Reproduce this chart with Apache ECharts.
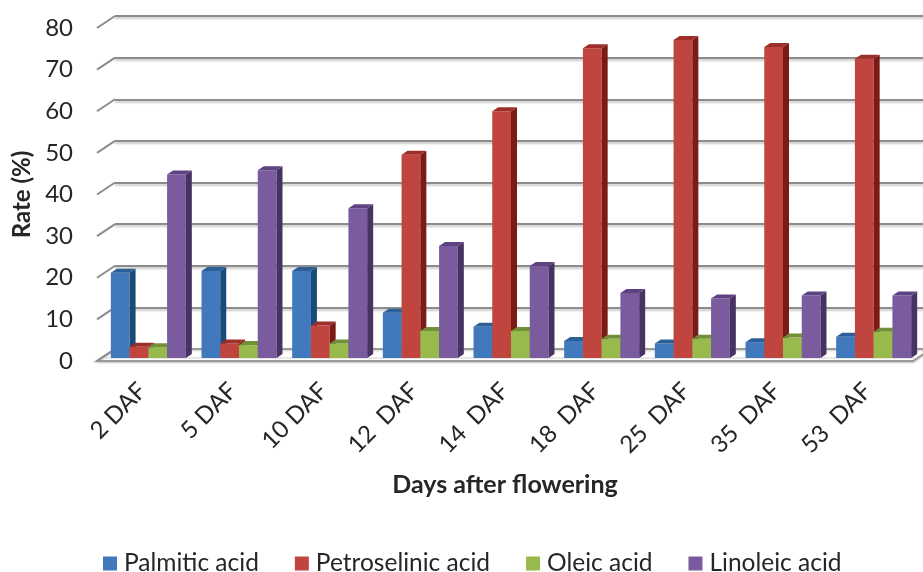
<!DOCTYPE html>
<html>
<head>
<meta charset="utf-8">
<script src="https://cdn.jsdelivr.net/npm/echarts@6/dist/echarts.min.js"></script>
<style>
  html, body { margin: 0; padding: 0; background: #fff; }
  #chart { width: 923px; height: 572px; }
</style>
</head>
<body>
<div id="chart"></div>
<script>
// Fatty acid composition over seed development
const categories = ['2 DAF', '5 DAF', '10 DAF', '12  DAF', '14  DAF', '18  DAF', '25  DAF', '35  DAF', '53  DAF'];
const palmitic     = [20.5, 20.9, 20.9, 10.9, 7.5, 4.1, 3.5, 3.8, 5.1];
const petroselinic = [2.7, 3.5, 7.8, 48.8, 59.3, 74.4, 76.4, 74.7, 71.9];
const oleic        = [2.6, 3.1, 3.5, 6.5, 6.5, 4.6, 4.6, 4.9, 6.3];
const linoleic     = [44.1, 45.1, 36.0, 26.9, 22.1, 15.6, 14.3, 15.0, 15.0];
const yTicks = [0, 10, 20, 30, 40, 50, 60, 70, 80];

// oblique 3D look: the back wall sits up-right of the front edge, bars in between
const WALL_DX = 18, WALL_DY = 12;
const BAR_DX = 6, BAR_DY = 3;
const DEPTH_X = 6, DEPTH_Y = 4;
const BAR_FRAC = 0.2068;

const FONT = 'Lato, "Open Sans", sans-serif';
const TXT = '#262626';

const front = { left: 97, right: 10, top: 28, bottom: 211 };

function barSeries(name, data, idx, cFront, cSide, cTop) {
  return {
    type: 'custom', name: name,
    xAxisIndex: 1, yAxisIndex: 1,
    data: data.map((v, i) => [i, v]),
    encode: { x: 0, y: 1 },
    itemStyle: { color: cFront },
    z: 5,
    renderItem: function (params, api) {
      const i = api.value(0), v = api.value(1);
      const band = api.size([1, 0])[0];
      const w = band * BAR_FRAC;
      const c = api.coord([i, v]);
      const b = api.coord([i, 0]);
      const x0 = c[0] - 2 * w + idx * w;
      const yT = c[1], yB = b[1];
      return {
        type: 'group',
        children: [
          { type: 'rect', shape: { x: x0, y: yT, width: w, height: yB - yT },
            style: { fill: cFront } },
          { type: 'polygon', shape: { points: [[x0 + w, yT], [x0 + w + DEPTH_X, yT - DEPTH_Y], [x0 + w + DEPTH_X, yB - DEPTH_Y], [x0 + w, yB]] },
            style: { fill: cSide } },
          { type: 'polygon', shape: { points: [[x0, yT], [x0 + DEPTH_X, yT - DEPTH_Y], [x0 + w + DEPTH_X, yT - DEPTH_Y], [x0 + w, yT]] },
            style: { fill: cTop } }
        ]
      };
    }
  };
}

const chart = echarts.init(document.getElementById('chart'), null, { renderer: 'canvas' });

chart.setOption({
  backgroundColor: '#ffffff',
  animation: false,
  textStyle: { fontFamily: FONT },
  grid: [
    // front edge plane: value/category labels, floor and axis titles
    { left: front.left, right: front.right, top: front.top, bottom: front.bottom },
    // plane of the bar faces
    { left: front.left + BAR_DX, right: front.right - BAR_DX, top: front.top - BAR_DY, bottom: front.bottom + BAR_DY },
    // back wall with the gridlines
    { left: front.left + WALL_DX, right: front.right - WALL_DX, top: front.top - WALL_DY, bottom: front.bottom + WALL_DY }
  ],
  xAxis: [
    { type: 'category', gridIndex: 0, data: categories,
      axisLine: { show: false }, axisTick: { show: false },
      axisLabel: { rotate: 45, margin: 26, fontFamily: FONT, fontSize: 24, color: TXT, interval: 0 },
      name: 'Days after flowering', nameLocation: 'middle', nameGap: 111,
      nameTextStyle: { fontFamily: FONT, fontSize: 25, fontWeight: 'bold', color: TXT } },
    { type: 'category', gridIndex: 1, data: categories, show: false },
    { type: 'category', gridIndex: 2, data: categories, show: false }
  ],
  yAxis: [
    { type: 'value', gridIndex: 0, min: 0, max: 80, interval: 10,
      axisLine: { show: false }, axisTick: { show: false }, splitLine: { show: false },
      axisLabel: { margin: 24, fontFamily: FONT, fontSize: 24, color: TXT },
      name: 'Rate (%)', nameLocation: 'middle', nameGap: 63, nameRotate: 90,
      nameTextStyle: { fontFamily: FONT, fontSize: 24, fontWeight: 'bold', color: TXT } },
    { type: 'value', gridIndex: 1, min: 0, max: 80, interval: 10, show: false },
    { type: 'value', gridIndex: 2, min: 0, max: 80, interval: 10,
      axisLine: { show: false }, axisTick: { show: false }, axisLabel: { show: false },
      splitLine: { show: true, lineStyle: { color: '#8c8c8c', width: 2,
        shadowColor: 'rgba(0,0,0,0.22)', shadowBlur: 2, shadowOffsetY: 2 } } }
  ],
  legend: {
    left: 98, top: 546,
    icon: 'rect', itemWidth: 14, itemHeight: 14, itemGap: 36,
    textStyle: { fontFamily: FONT, fontSize: 24.5, color: TXT, padding: [0, 0, 0, 2] },
    data: ['Palmitic acid', 'Petroselinic acid', 'Oleic acid', 'Linoleic acid']
  },
  series: [
    // floor
    { type: 'custom', xAxisIndex: 0, yAxisIndex: 0, data: [[0, 0]], silent: true, z: 1,
      renderItem: function (params, api) {
        const cs = params.coordSys;
        const y0 = api.coord([0, 0])[1];
        const xl = cs.x, xr = cs.x + cs.width;
        return {
          type: 'group', children: [
            { type: 'polygon', shape: { points: [[xl, y0], [xr, y0], [xr + WALL_DX, y0 - WALL_DY], [xl + WALL_DX, y0 - WALL_DY]] },
              style: { fill: '#ffffff', stroke: '#9a9a9a', lineWidth: 2,
                shadowColor: 'rgba(0,0,0,0.2)', shadowBlur: 2, shadowOffsetY: 1 } },
            { type: 'line', shape: { x1: xl + 4, y1: y0 - 3, x2: xr + 4, y2: y0 - 3 },
              style: { stroke: '#d0d0d0', lineWidth: 1 } }
          ]
        };
      } },
    // slanted ticks joining the value labels to the wall gridlines
    { type: 'custom', xAxisIndex: 0, yAxisIndex: 0, data: yTicks.map(v => [0, v]), silent: true, z: 2,
      renderItem: function (params, api) {
        const cs = params.coordSys;
        const y = api.coord([0, api.value(1)])[1];
        return { type: 'line', shape: { x1: cs.x, y1: y, x2: cs.x + WALL_DX, y2: y - WALL_DY },
          style: { stroke: '#8c8c8c', lineWidth: 2 } };
      } },
    barSeries('Palmitic acid', palmitic, 0, '#4279bd', '#1a4a78', '#2c5f95'),
    barSeries('Petroselinic acid', petroselinic, 1, '#c0453f', '#7a1b18', '#9e2e2a'),
    barSeries('Oleic acid', oleic, 2, '#98ba4c', '#5f7a2e', '#72903a'),
    barSeries('Linoleic acid', linoleic, 3, '#7a5c9e', '#483262', '#5d4382')
  ]
});
</script>
</body>
</html>
